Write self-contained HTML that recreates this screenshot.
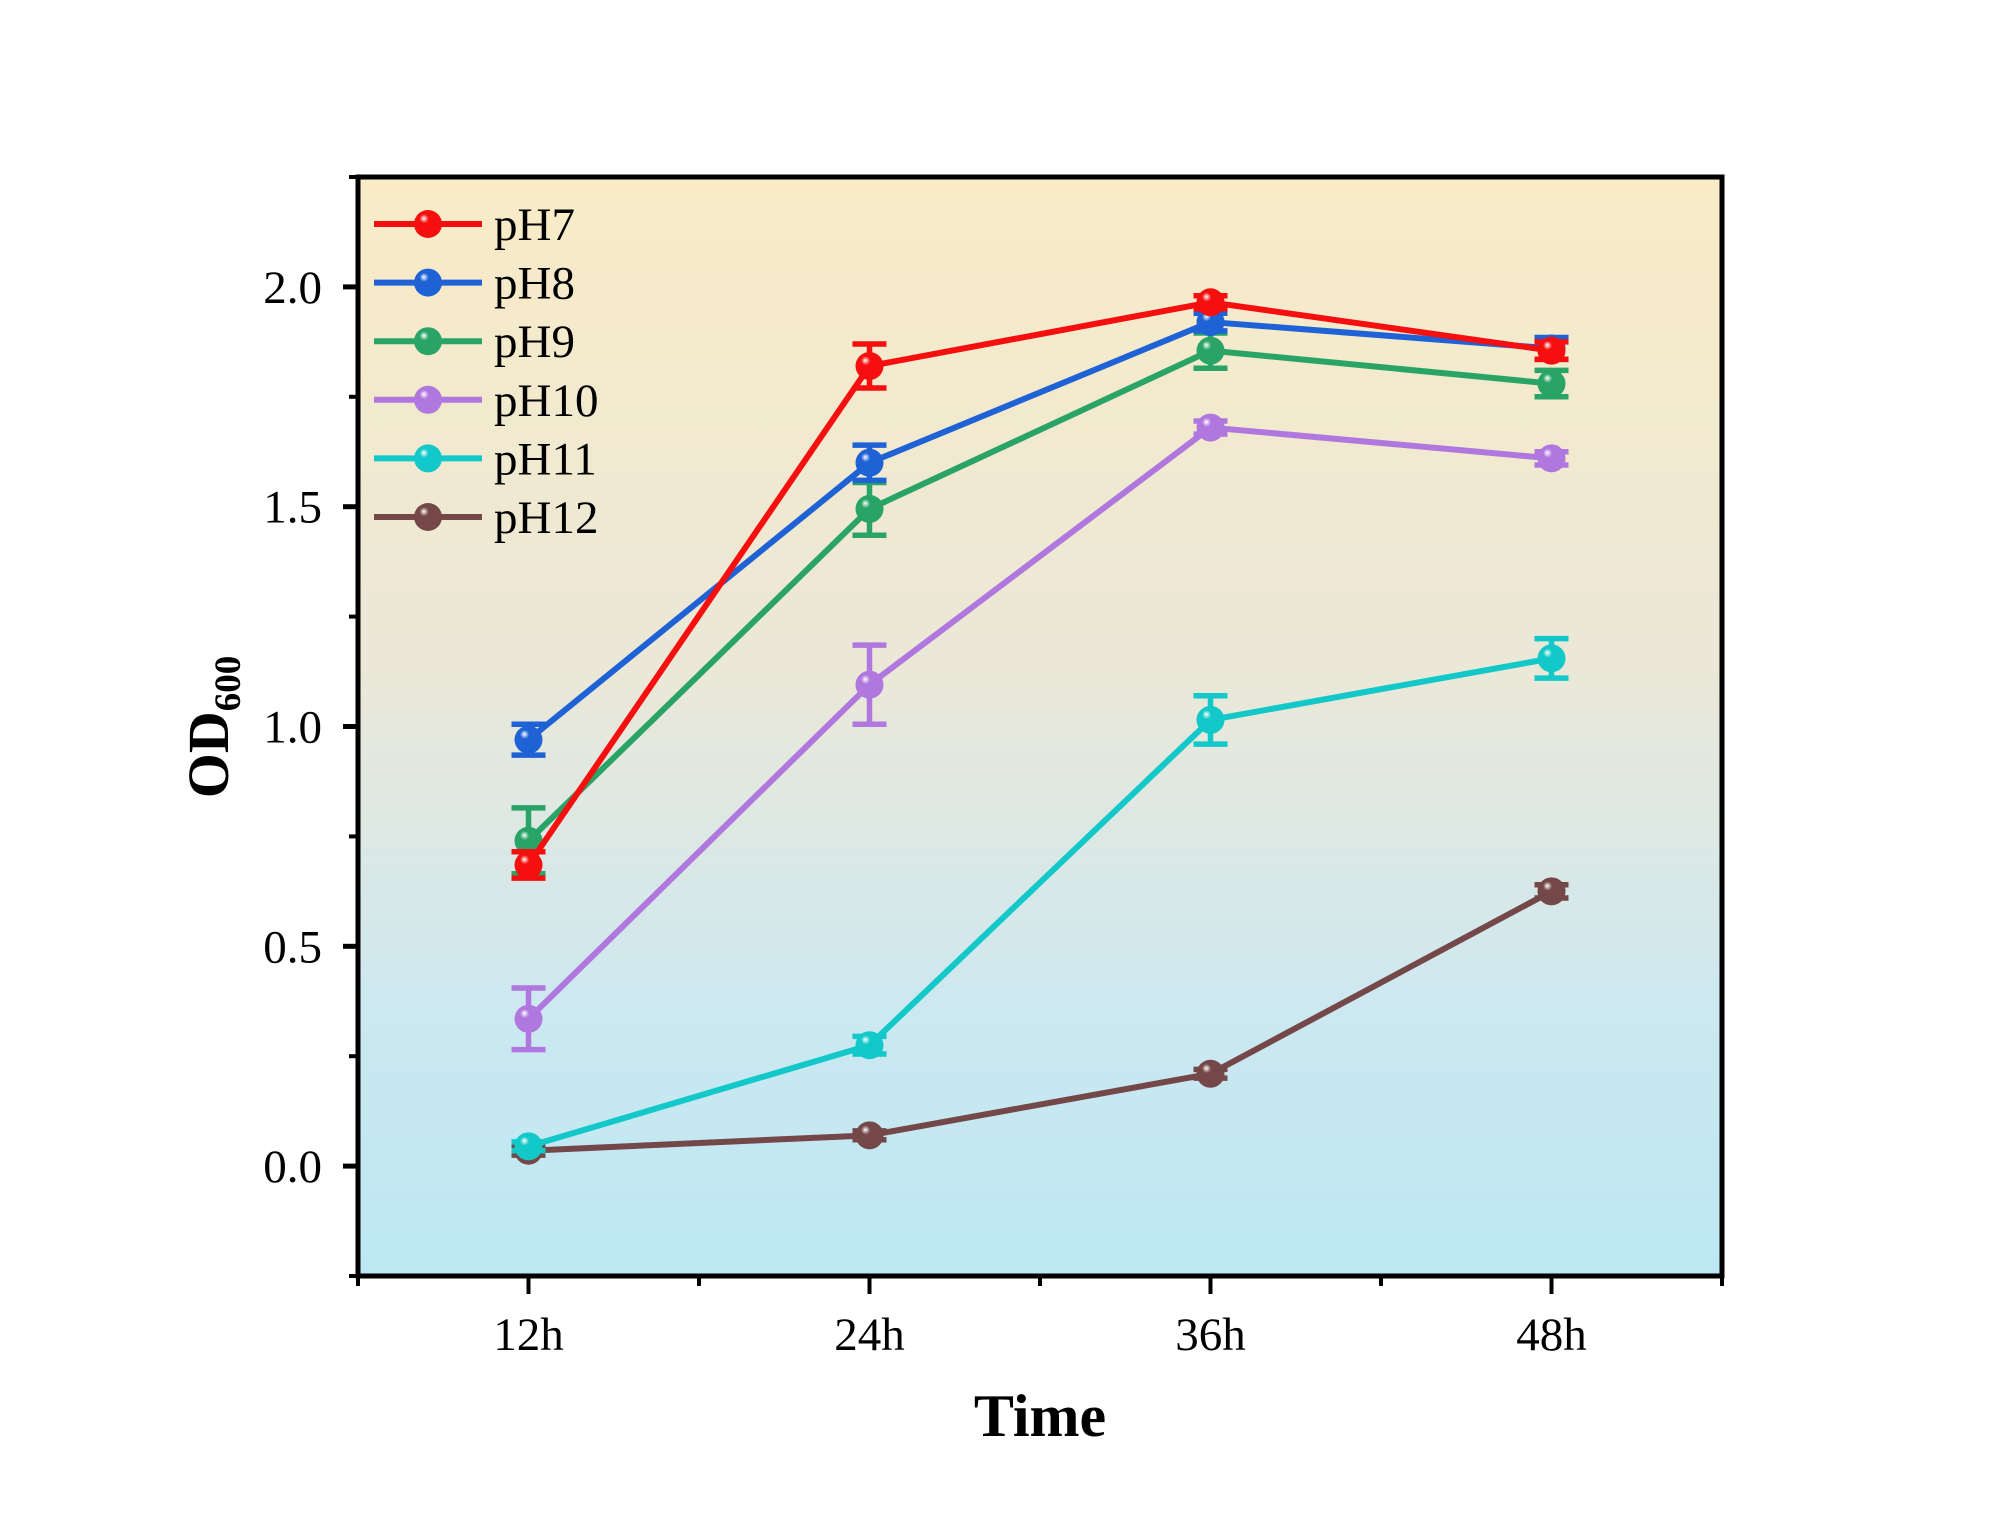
<!DOCTYPE html>
<html><head><meta charset="utf-8"><style>
html,body{margin:0;padding:0;background:#fff;}
svg{display:block;font-family:"Liberation Serif",serif;}
</style></head><body>
<svg id="chart" width="1999" height="1530" viewBox="0 0 1999 1530" xmlns="http://www.w3.org/2000/svg">
<defs>
<linearGradient id="bg" x1="0" y1="0" x2="0" y2="1">
<stop offset="0" stop-color="#f9ebc6"/>
<stop offset="0.45" stop-color="#ebe8d8"/>
<stop offset="0.75" stop-color="#cde8f0"/>
<stop offset="1" stop-color="#bce8f3"/>
</linearGradient>
</defs>
<g id="plot"></g>
</svg>
<script>
const categories = ["12h","24h","36h","48h"];
const seriesNames = ["pH7","pH8","pH9","pH10","pH11","pH12"];
const seriesColors = ["#f50f0f","#1f62d6","#2aa466","#b077df","#12c8c8","#744848"];
const pH7 = [0.685,1.82,1.965,1.855];
const pH8 = [0.97,1.60,1.92,1.86];
const pH9 = [0.74,1.495,1.855,1.78];
const pH10 = [0.335,1.095,1.68,1.61];
const pH11 = [0.045,0.275,1.015,1.155];
const pH12 = [0.035,0.07,0.21,0.625];
const err7 = [0.03,0.05,0.015,0.02];
const err8 = [0.035,0.04,0.02,0.025];
const err9 = [0.075,0.06,0.04,0.03];
const err10 = [0.07,0.09,0.015,0.015];
const err11 = [0.01,0.02,0.055,0.045];
const err12 = [0.01,0.01,0.01,0.015];
const yTicks = ["0.0","0.5","1.0","1.5","2.0"];
const values = [pH7,pH8,pH9,pH10,pH11,pH12];
const errors = [err7,err8,err9,err10,err11,err12];

const NS="http://www.w3.org/2000/svg";
const L=358,R=1722,T=177,B=1276;
const yMin=-0.25,yMax=2.25;
function xs(i){return L+(i+0.5)/categories.length*(R-L);}
function ys(v){return B-(v-yMin)/(yMax-yMin)*(B-T);}
const svg=document.getElementById('chart');
const g=document.getElementById('plot');
function mk(tag,attrs,parent){const e=document.createElementNS(NS,tag);for(const k in attrs)e.setAttribute(k,attrs[k]);(parent||g).appendChild(e);return e;}

const defs=svg.querySelector('defs');
seriesColors.forEach((c,i)=>{
  const rg=mk('radialGradient',{id:'sph'+i,cx:'0.4',cy:'0.35',r:'0.65',fx:'0.35',fy:'0.3'},defs);
  mk('stop',{offset:'0','stop-color':'#ffffff'},rg);
  mk('stop',{offset:'0.25','stop-color':c},rg);
  mk('stop',{offset:'1','stop-color':c},rg);
});

const bg=mk('rect',{x:L,y:T,width:R-L,height:B-T,fill:'url(#bg)'});



for(let s=values.length-1;s>=0;s--){
  const grp=mk('g',{});
  
  
  const c=seriesColors[s];
  const pts=values[s].map((v,i)=>xs(i)+','+ys(v)).join(' ');
  const pl=mk('polyline',{points:pts,fill:'none',stroke:c,'stroke-width':6,'stroke-linejoin':'round'},grp);
  
  
  values[s].forEach((v,i)=>{
    const x=xs(i),e=errors[s][i],y1=ys(v+e),y2=ys(v-e);
    const eb=mk('path',{d:`M${x},${y1}V${y2}M${x-17},${y1}H${x+17}M${x-17},${y2}H${x+17}`,stroke:c,'stroke-width':5.5,fill:'none'},grp);
    
    
    const m=mk('circle',{cx:x,cy:ys(v),r:14,fill:'url(#sph'+s+')'},grp);
    
    
  });
}

const fr=mk('rect',{x:L,y:T,width:R-L,height:B-T,fill:'none',stroke:'#000','stroke-width':5});



yTicks.forEach(t=>{
  const v=parseFloat(t),y=ys(v);
  const tk=mk('line',{x1:L-15,x2:L,y1:y,y2:y,stroke:'#000','stroke-width':5});
  
  
  const tx=mk('text',{x:L-36,y:y+16,'text-anchor':'end','font-size':47,fill:'#000'});
  tx.textContent=t;
  
  
});
for(let v=-0.25;v<=2.25001;v+=0.5){
  const y=ys(v);
  const tk=mk('line',{x1:L-9,x2:L,y1:y,y2:y,stroke:'#000','stroke-width':4});
  
  
}
categories.forEach((c,i)=>{
  const x=xs(i);
  const tk=mk('line',{x1:x,x2:x,y1:B,y2:B+18,stroke:'#000','stroke-width':4});
  
  
  const tx=mk('text',{x:x,y:1350,'text-anchor':'middle','font-size':47,fill:'#000'});
  tx.textContent=c;
  
  
});
for(let i=0;i<=categories.length;i++){
  const x=L+i/categories.length*(R-L);
  const tk=mk('line',{x1:x,x2:x,y1:B,y2:B+10,stroke:'#000','stroke-width':4});
  
  
}

const xt=mk('text',{x:1040,y:1436,'text-anchor':'middle','font-size':60,'font-weight':'bold',fill:'#000'});
xt.textContent='Time';


const yt=mk('text',{transform:'translate(228,727) rotate(-90)','text-anchor':'middle','font-size':58,'font-weight':'bold',fill:'#000'});


const t1=mk('tspan',{},yt);t1.textContent='OD';
const t2=mk('tspan',{'font-size':37,dy:12},yt);t2.textContent='600';

const lg=mk('g',{});


seriesNames.forEach((n,i)=>{
  const y=224+i*58.6;
  const e=mk('g',{},lg);
  
  
  mk('line',{x1:374,x2:482,y1:y,y2:y,stroke:seriesColors[i],'stroke-width':6},e);
  mk('circle',{cx:428,cy:y,r:14,fill:'url(#sph'+i+')'},e);
  const tx=mk('text',{x:494,y:y+16,'font-size':47,fill:'#000'},e);
  tx.textContent=n;
});
</script>
</body></html>
